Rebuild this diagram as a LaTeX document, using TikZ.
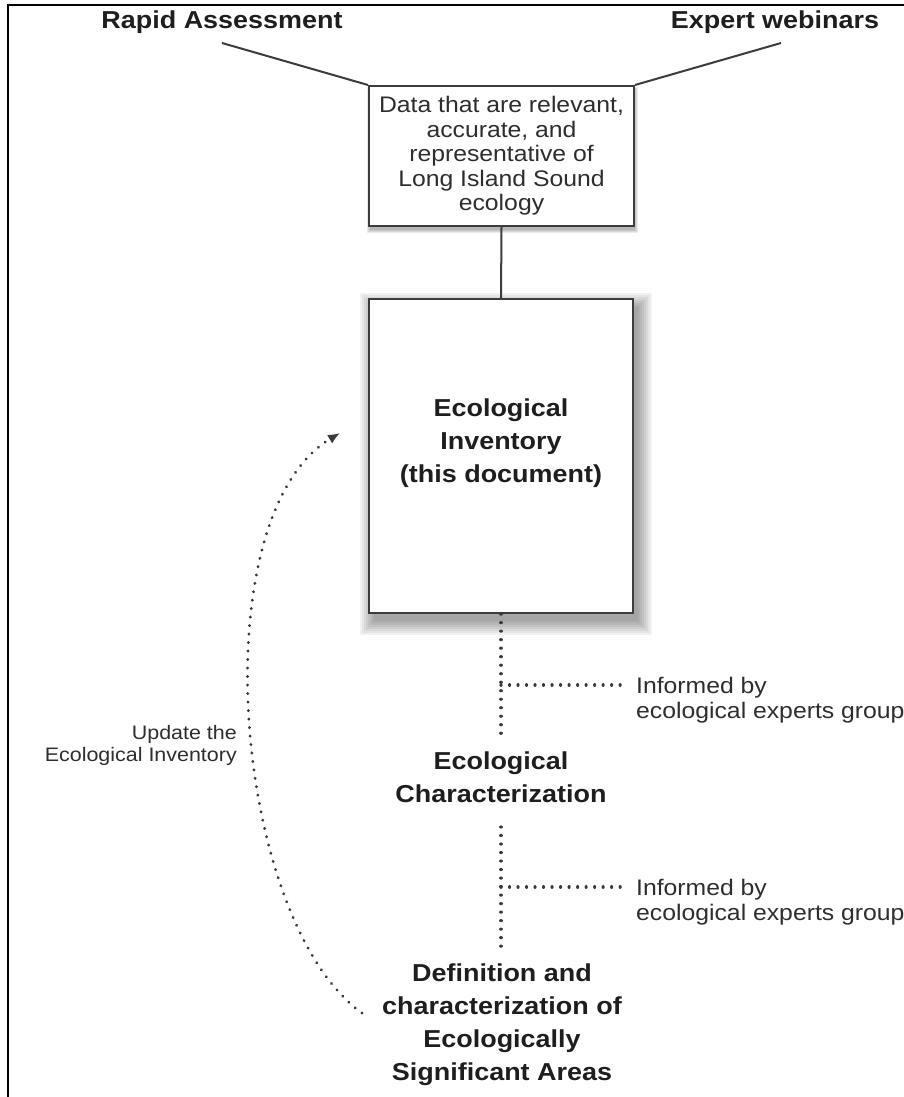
\documentclass[tikz,border=0pt]{standalone}
\usepackage{fontspec}
\setmainfont{Liberation Sans}[FakeStretch=1.1]
\usetikzlibrary{arrows.meta,calc}
\definecolor{ink}{HTML}{1E1E1E}
\definecolor{ink2}{HTML}{2E2E2E}
\definecolor{edge}{HTML}{3C3C3C}
\definecolor{dotc}{HTML}{3A3A3A}
\begin{document}
\begin{tikzpicture}[x=1pt,y=-1pt,
  title/.style={font=\fontsize{24.5}{33}\selectfont\bfseries, text=ink, inner sep=0pt},
  boldtxt/.style={font=\fontsize{24.5}{33}\selectfont\bfseries, text=ink, inner sep=0pt, align=center},
  regtxt/.style={font=\fontsize{22.5}{24.5}\selectfont, text=ink2, inner sep=0pt},
  smalltxt/.style={font=\fontsize{19.5}{22}\selectfont, text=ink2, inner sep=0pt},
  boxed/.style={draw=edge, line width=2pt, fill=white, inner sep=0pt},
  link/.style={draw=edge, line width=2pt},
  dots/.style={draw=dotc, line width=3.2pt, dash pattern=on 0.01pt off 8.5pt, line cap=round}
]
\useasboundingbox (0,0) rectangle (904,1097);
\fill[white] (0,0) rectangle (904,1097);
% frame
\draw[line width=2pt, black] (7.5,1097) -- (7.5,5.5) -- (904,5.5);

% titles
\node[title, anchor=base] (ra) at (222,29) {Rapid Assessment};
\node[title, anchor=base] (ew) at (775,29) {Expert webinars};

% data box with small shadow
\foreach \r in {0,1,2,3}{
  \fill[black, fill opacity=0.08] (369+1-\r,87+3-\r) rectangle (634+1+\r,227+3+\r);
}
\node[boxed, regtxt, align=center, minimum width=265pt, minimum height=140pt] (data) at (501.5,156)
  {Data that are relevant,\\accurate, and\\representative of\\Long Island Sound\\ecology};

\coordinate (raend) at (222,43);
\coordinate (ewend) at (781,43);
\draw[link] (raend) -- (data.north west);
\draw[link] (ewend) -- (data.north east);

% main box shadow
\foreach \r in {0,2,4,6,8,10,12,14}{
  \fill[black, fill opacity=0.05] (369+5-\r,299+8-\r) rectangle (633+5+\r,613+8+\r);
}
\node[boxed, line width=2.2pt, minimum width=264pt, minimum height=314pt] (inv) at (501,456) {};
\node[boldtxt] (invt) at (501,443) {Ecological\\Inventory\\(this document)};
\draw[link] (data.south) -- (inv.north);

% lower nodes
\node[boldtxt] (char) at (501,777.5) {Ecological\\Characterization};
\node[boldtxt] (def) at (502,1025) {Definition and\\characterization of\\Ecologically\\Significant Areas};
\node[regtxt, align=left, anchor=west] (inf1) at (636,700) {Informed by\\ecological experts group};
\node[regtxt, align=left, anchor=west] (inf2) at (636,902) {Informed by\\ecological experts group};
\node[smalltxt, align=right, anchor=east] (upd) at (237,745.5) {Update the\\Ecological Inventory};

% dotted connectors
\coordinate (d1) at (501,735);
\draw[dots] (inv.south) -- (d1);
\coordinate (j1) at (501,685);
\coordinate (h1) at (623,685);
\draw[dots] (j1) -- (h1);
\coordinate (d2a) at (501,827);
\coordinate (d2b) at (501,950);
\draw[dots] (d2a) -- (d2b);
\coordinate (j2) at (501,887);
\coordinate (h2) at (623,887);
\draw[dots] (j2) -- (h2);

% curved update arrow
\coordinate (cs) at (362,1013);
\coordinate (ce) at (340,433);
\draw[dots, -{Latex[length=12pt,width=10pt]}] (cs) .. controls (233,921) and (200,517) .. (ce);
\end{tikzpicture}
\end{document}
